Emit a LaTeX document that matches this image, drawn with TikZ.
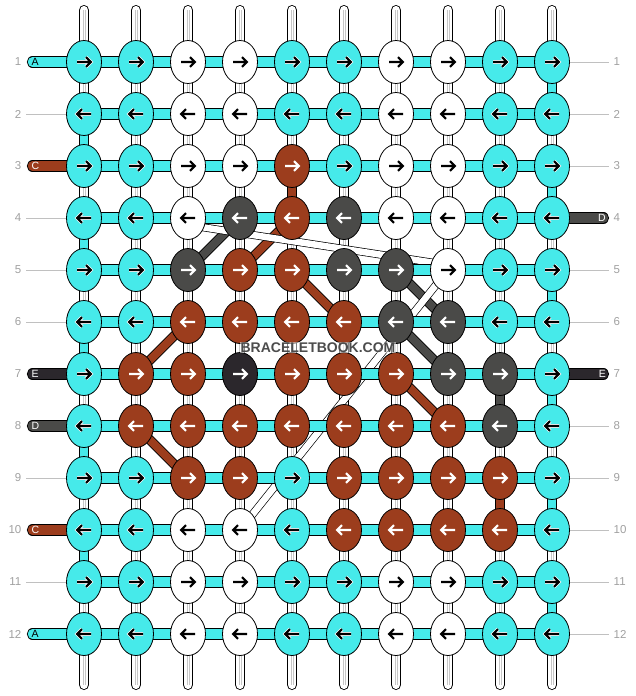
\documentclass[tikz,border=0pt]{standalone}
\usepackage{fontspec}
\setmainfont{Liberation Sans}
\usepackage{tikz}
\usetikzlibrary{shapes.geometric}
\definecolor{aqua}{RGB}{70, 234, 234}
\definecolor{rust}{RGB}{156, 61, 29}
\definecolor{slate}{RGB}{74, 74, 72}
\definecolor{ink}{RGB}{43, 39, 44}
\definecolor{numgray}{RGB}{160, 160, 160}
\definecolor{guidegray}{RGB}{192, 192, 192}

\tikzset{
  knot/.style={ellipse, draw=black, line width=0.8pt, minimum width=35pt, minimum height=43pt, inner sep=0pt},
  knot A/.style={knot, fill=aqua},
  knot B/.style={knot, fill=white},
  knot C/.style={knot, fill=rust},
  knot D/.style={knot, fill=slate},
  knot E/.style={knot, fill=ink},
  pointer/.style={line width=2.1pt, line cap=butt, line join=miter},
  pointer A/.style={pointer, draw=black, preaction={draw=white, line width=3.7pt}},
  pointer B/.style={pointer, draw=black},
  pointer C/.style={pointer, draw=white},
  pointer D/.style={pointer, draw=white},
  pointer E/.style={pointer, draw=white},
  warp/.style={draw=black, line width=0.9pt, double=white, double distance=8.6pt, line cap=round},
  fibre/.style={draw=black!22, line width=0.6pt},
  weft/.style={draw=black, line width=0.9pt, double=aqua, double distance=9.5pt},
  link/.style={draw=black, line width=0.9pt, double distance=8.6pt},
  link A/.style={link, double=aqua},
  link C/.style={link, double=rust},
  link D/.style={link, double=slate},
  strand/.style={draw=black, line width=0.8pt, double distance=8pt},
  strand B/.style={strand, double=white, line width=0.7pt, double distance=6.5pt},
  strand C/.style={strand, double=rust},
  strand D/.style={strand, double=slate},
  tail/.style={draw=black, line width=0.9pt, double distance=9.5pt, line cap=round},
  tail A/.style={tail, double=aqua},
  tail C/.style={tail, double=rust},
  tail D/.style={tail, double=slate},
  tail E/.style={tail, double=ink},
  tag/.style={font=\fontsize{10.5}{10.5}\selectfont, inner sep=0pt},
  tag A/.style={tag, text=black},
  tag C/.style={tag, text=white},
  tag D/.style={tag, text=white},
  tag E/.style={tag, text=white},
  rownum/.style={font=\fontsize{11.5}{11.5}\selectfont, text=numgray, inner xsep=4.5pt, inner ysep=0pt},
  guide/.style={draw=guidegray, line width=0.8pt},
  watermark/.style={font=\fontsize{14}{14}\selectfont\bfseries, text=black!70, fill=white, fill opacity=0.5, text opacity=1, inner sep=1pt}
}

\begin{document}
\begin{tikzpicture}[x=1pt, y=-1pt]
  \useasboundingbox (0,0) rectangle (636,696);
  % Grid points
  \foreach \r in {1,...,12}
    \foreach \c in {1,...,10}
      \coordinate (p-\r-\c) at (32+52*\c, 10+52*\r);
  % Warp strings
  \foreach \c in {1,...,10} {
    \coordinate (top-\c) at (32+52*\c, 10.2);
    \coordinate (bot-\c) at (32+52*\c, 684.8);
    \draw[warp] (top-\c) -- (bot-\c);
    \draw[fibre] ([xshift=-1.2pt]top-\c) -- ([xshift=-1.2pt]bot-\c);
    \draw[fibre] ([xshift=1.2pt]top-\c) -- ([xshift=1.2pt]bot-\c);
  }
  % Coloured links between rows
  \foreach \r/\c/\t in {2/1/A, 4/1/A, 6/1/A, 8/1/A, 10/1/A,
                        1/10/A, 3/10/A, 5/10/A, 7/10/A, 9/10/A, 11/10/A,
                        3/5/C, 7/9/D, 9/9/C} {
    \pgfmathtruncatemacro\n{\r+1}
    \draw[link \t] (p-\r-\c) -- (p-\n-\c);
  }
  % Strands carried behind the knots
  \foreach \a/\b/\t in {4-4/5-3/D, 4-5/5-4/C, 5-5/6-6/C, 5-7/6-8/D, 6-7/7-8/D,
                        7-7/8-8/C, 7-2/6-3/C, 8-2/9-3/C, 5-8/10-4/B}
    \draw[strand \t] (p-\a) -- (p-\b);
  \draw[strand B] ([yshift=-7pt]p-4-3) -- ([yshift=5pt]p-5-8);
  % Row threads
  \foreach \r in {1,...,12}
    \draw[weft] (p-\r-1) -- (p-\r-10);
  % Loose ends, left and right
  \foreach \r/\t in {1/A, 3/C, 7/E, 8/D, 10/C, 12/A} {
    \coordinate (lt-\r) at (32.5, 10+52*\r);
    \draw[tail \t] (lt-\r) -- (p-\r-1);
    \node[tag \t, anchor=west] (lab-\r) at (31.5, 10+52*\r) {\t};
  }
  \foreach \r/\t in {4/D, 7/E} {
    \coordinate (rt-\r) at (603.4, 10+52*\r);
    \draw[tail \t] (p-\r-10) -- (rt-\r);
    \node[tag \t, anchor=east] (rab-\r) at (606, 10+52*\r) {\t};
  }
  % Row numbers
  \foreach \r in {1,...,12} {
    \node[rownum, anchor=east] (ln-\r) at (26, 10+52*\r) {\r};
    \node[rownum, anchor=west] (rn-\r) at (609, 10+52*\r) {\r};
  }
  \foreach \r in {2,4,5,6,9,11}
    \draw[guide] (ln-\r) -- (p-\r-1);
  \foreach \r in {1,2,3,5,6,8,9,10,11,12}
    \draw[guide] (p-\r-10) -- (rn-\r);
  % Knots
  \foreach \cols [count=\r] in {{A,A,B,B,A,A,B,B,A,A}, {A,A,B,B,A,A,B,B,A,A},
                                {A,A,B,B,C,A,B,B,A,A}, {A,A,B,D,C,D,B,B,A,A},
                                {A,A,D,C,C,D,D,B,A,A}, {A,A,C,C,C,C,D,D,A,A},
                                {A,C,C,E,C,C,C,D,D,A}, {A,C,C,C,C,C,C,C,D,A},
                                {A,A,C,C,A,C,C,C,C,A}, {A,A,B,B,A,C,C,C,C,A},
                                {A,A,B,B,A,A,B,B,A,A}, {A,A,B,B,A,A,B,B,A,A}} {
    \pgfmathtruncatemacro\d{1-2*mod(\r+1,2)}
    \pgfmathsetmacro\xs{-7*\d}
    \pgfmathsetmacro\xe{6.2*\d}
    \pgfmathsetmacro\xw{2*\d}
    \pgfmathsetmacro\xt{6.8*\d}
    \foreach \t [count=\c] in \cols {
      \node[knot \t] (k-\r-\c) at (p-\r-\c) {};
      \draw[pointer \t] ([xshift=\xs pt]k-\r-\c.center) -- ([xshift=\xe pt]k-\r-\c.center)
        ([xshift=\xw pt, yshift=4.8pt]k-\r-\c.center) -- ([xshift=\xt pt]k-\r-\c.center)
        -- ([xshift=\xw pt, yshift=-4.8pt]k-\r-\c.center);
    }
  }
  % Site mark
  \node[watermark] (wm) at (318, 347.5) {BRACELETBOOK.COM};
\end{tikzpicture}
\end{document}
